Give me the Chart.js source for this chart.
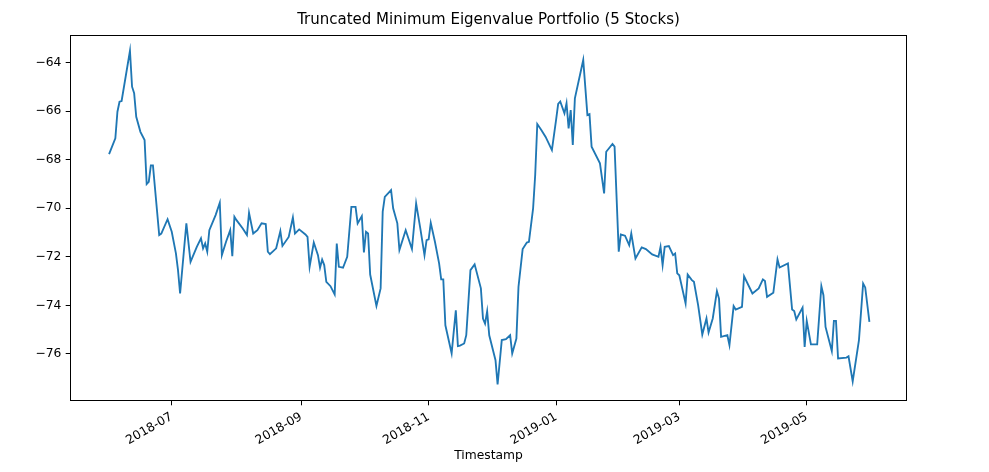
<!DOCTYPE html>
<html><head><meta charset="utf-8">
<script src="https://cdn.jsdelivr.net/npm/chart.js@4.4.0/dist/chart.umd.min.js"></script>
<style>html,body{margin:0;padding:0;background:#fff;}canvas{display:block;}</style>
</head><body>
<canvas id="c" width="989" height="472" style="width:989px;height:472px"></canvas>
<script>
const titleText = 'Truncated Minimum Eigenvalue Portfolio (5 Stocks)';
const xAxisLabel = 'Timestamp';
const dates = ['2018-06-01','2018-06-04','2018-06-05','2018-06-06','2018-06-07','2018-06-11','2018-06-12','2018-06-13','2018-06-14','2018-06-16','2018-06-18','2018-06-19','2018-06-20','2018-06-21','2018-06-22','2018-06-25','2018-06-26','2018-06-29','2018-07-01','2018-07-03','2018-07-04','2018-07-05','2018-07-08','2018-07-10','2018-07-13','2018-07-15','2018-07-16','2018-07-17','2018-07-18','2018-07-19','2018-07-22','2018-07-24','2018-07-25','2018-07-27','2018-07-29','2018-07-30','2018-07-31','2018-08-01','2018-08-04','2018-08-06','2018-08-07','2018-08-09','2018-08-11','2018-08-13','2018-08-15','2018-08-16','2018-08-17','2018-08-20','2018-08-22','2018-08-23','2018-08-26','2018-08-28','2018-08-29','2018-08-31','2018-09-03','2018-09-04','2018-09-05','2018-09-07','2018-09-09','2018-09-10','2018-09-11','2018-09-12','2018-09-13','2018-09-15','2018-09-17','2018-09-18','2018-09-19','2018-09-21','2018-09-23','2018-09-25','2018-09-27','2018-09-28','2018-09-30','2018-10-01','2018-10-02','2018-10-03','2018-10-04','2018-10-07','2018-10-09','2018-10-10','2018-10-11','2018-10-14','2018-10-15','2018-10-17','2018-10-18','2018-10-21','2018-10-24','2018-10-26','2018-10-28','2018-10-30','2018-10-31','2018-11-01','2018-11-02','2018-11-04','2018-11-06','2018-11-07','2018-11-08','2018-11-09','2018-11-12','2018-11-14','2018-11-15','2018-11-16','2018-11-18','2018-11-19','2018-11-21','2018-11-23','2018-11-26','2018-11-27','2018-11-28','2018-11-29','2018-11-30','2018-12-03','2018-12-04','2018-12-06','2018-12-08','2018-12-10','2018-12-11','2018-12-13','2018-12-14','2018-12-16','2018-12-18','2018-12-19','2018-12-21','2018-12-22','2018-12-23','2018-12-25','2018-12-27','2018-12-30','2019-01-01','2019-01-02','2019-01-03','2019-01-05','2019-01-06','2019-01-07','2019-01-08','2019-01-09','2019-01-10','2019-01-14','2019-01-16','2019-01-17','2019-01-18','2019-01-22','2019-01-24','2019-01-25','2019-01-28','2019-01-29','2019-01-31','2019-02-01','2019-02-03','2019-02-05','2019-02-06','2019-02-08','2019-02-11','2019-02-13','2019-02-16','2019-02-19','2019-02-20','2019-02-21','2019-02-22','2019-02-24','2019-02-26','2019-02-27','2019-02-28','2019-03-01','2019-03-04','2019-03-05','2019-03-07','2019-03-08','2019-03-10','2019-03-12','2019-03-14','2019-03-15','2019-03-17','2019-03-19','2019-03-20','2019-03-21','2019-03-24','2019-03-25','2019-03-27','2019-03-28','2019-03-31','2019-04-01','2019-04-05','2019-04-08','2019-04-10','2019-04-11','2019-04-12','2019-04-15','2019-04-17','2019-04-18','2019-04-22','2019-04-24','2019-04-25','2019-04-26','2019-04-29','2019-04-30','2019-05-01','2019-05-03','2019-05-06','2019-05-08','2019-05-09','2019-05-10','2019-05-13','2019-05-14','2019-05-15','2019-05-16','2019-05-20','2019-05-21','2019-05-23','2019-05-26','2019-05-28','2019-05-29','2019-05-31'];
const portfolioValues = [-67.77,-67.12,-66.02,-65.61,-65.58,-63.51,-64.99,-65.26,-66.23,-66.85,-67.19,-69.00,-68.91,-68.23,-68.23,-71.10,-71.04,-70.45,-70.97,-71.86,-72.55,-73.51,-70.62,-72.21,-71.59,-71.24,-71.65,-71.45,-71.79,-70.90,-70.28,-69.77,-71.93,-71.38,-70.90,-71.97,-70.35,-70.49,-70.83,-71.10,-70.19,-71.04,-70.90,-70.62,-70.65,-71.79,-71.89,-71.65,-70.94,-71.55,-71.18,-70.38,-71.04,-70.87,-71.08,-71.18,-72.41,-71.41,-71.93,-72.45,-72.11,-72.34,-73.03,-73.21,-73.55,-71.45,-72.41,-72.45,-72.00,-69.94,-69.94,-70.62,-70.32,-71.82,-70.97,-71.04,-72.73,-74.02,-73.30,-70.14,-69.53,-69.25,-70.00,-70.62,-71.72,-70.90,-71.68,-69.80,-70.83,-71.93,-71.31,-71.28,-70.60,-71.38,-72.27,-72.93,-72.93,-74.82,-75.98,-74.20,-75.68,-75.66,-75.57,-75.23,-72.55,-72.31,-73.30,-74.54,-74.75,-74.24,-75.23,-76.26,-77.26,-75.43,-75.39,-75.23,-75.98,-75.37,-73.24,-71.68,-71.41,-71.38,-70.00,-68.63,-66.53,-66.78,-67.06,-67.60,-66.36,-65.70,-65.60,-66.09,-65.67,-66.71,-65.95,-67.39,-65.47,-63.89,-66.16,-66.12,-67.46,-68.15,-69.39,-67.67,-67.35,-67.46,-71.79,-71.08,-71.13,-71.52,-71.04,-72.07,-71.61,-71.68,-71.90,-72.00,-71.59,-72.34,-71.59,-71.56,-71.93,-71.86,-72.68,-72.76,-73.92,-72.73,-72.96,-73.03,-73.99,-75.20,-74.54,-75.12,-74.54,-73.41,-73.72,-75.30,-75.23,-75.64,-74.03,-74.17,-74.06,-72.80,-73.51,-73.30,-72.93,-73.00,-73.65,-73.48,-72.11,-72.44,-72.27,-74.17,-74.23,-74.58,-74.09,-75.71,-74.64,-75.61,-75.61,-73.21,-73.58,-74.89,-75.88,-74.64,-74.64,-76.19,-76.15,-76.10,-77.13,-75.43,-73.10,-73.26,-74.68];
const xTickDates = ['2018-07-01','2018-09-01','2018-11-01','2019-01-01','2019-03-01','2019-05-01'];
const xTickLabels = ['2018-07','2018-09','2018-11','2019-01','2019-03','2019-05'];
const yTickValues = [-76,-74,-72,-70,-68,-66,-64];
const xRange = ['2018-05-13T07:00:00Z','2019-06-18T00:00:00Z'];
const yRange = [-77.94,-62.86];

const points = dates.map((d,i)=>({x: Date.parse(d), y: portfolioValues[i]}));
const FONT = 'DejaVu Sans';
const frame = {
  id:'frame',
  afterDatasetsDraw(chart){
    const a = chart.chartArea, ctx = chart.ctx;
    ctx.save(); ctx.strokeStyle = '#000'; ctx.lineWidth = 1;
    ctx.strokeRect(Math.round(a.left)+0.5, Math.round(a.top)+0.5, Math.round(a.right-a.left)-1, Math.round(a.bottom-a.top)-1);
    ctx.restore();
  }
};
new Chart(document.getElementById('c'), {
  type:'line',
  data:{datasets:[{data:points, borderColor:'#1f77b4', borderWidth:1.85, pointRadius:0, tension:0, fill:false}]},
  options:{
    responsive:false, animation:false, devicePixelRatio:1,
    layout:{padding:{left:0,right:82,top:0,bottom:0}},
    plugins:{
      legend:{display:false}, tooltip:{enabled:false},
      title:{display:true, fullSize:false, text:titleText, color:'#000', font:{family:FONT, size:15, weight:'normal'}, padding:{top:11, bottom:6}}
    },
    scales:{
      x:{type:'linear', min:Date.parse(xRange[0]), max:Date.parse(xRange[1]),
        afterBuildTicks(s){ s.ticks = xTickDates.map(d=>({value:Date.parse(d)})); },
        afterFit(s){ s.height = 71; },
        grid:{drawOnChartArea:false, drawTicks:true, tickLength:4.3, color:'#000', tickWidth:1},
        border:{display:false},
        ticks:{autoSkip:false, minRotation:30, maxRotation:30, padding:4.3, color:'#000', font:{family:FONT,size:12.3},
          callback(v){ const i = xTickDates.findIndex(d=>Date.parse(d)===v); return i>=0 ? xTickLabels[i] : ''; }},
        title:{display:true, text:xAxisLabel, color:'#000', font:{family:FONT,size:12.3}, padding:{top:0,bottom:9}}
      },
      y:{type:'linear', min:yRange[0], max:yRange[1],
        afterBuildTicks(s){ s.ticks = yTickValues.map(v=>({value:v})); },
        afterFit(s){ s.width = 70; },
        grid:{drawOnChartArea:false, drawTicks:true, tickLength:4.3, color:'#000', tickWidth:1},
        border:{display:false},
        ticks:{padding:4.3, color:'#000', font:{family:FONT,size:12.3},
          callback(v){ return v<0 ? '\u2212'+Math.abs(v) : String(v); }}
      }
    }
  },
  plugins:[frame]
});
</script>
</body></html>
